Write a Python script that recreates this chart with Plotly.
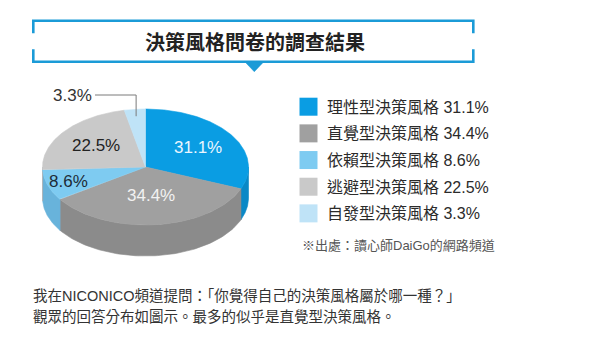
import numpy as np
import plotly.graph_objects as go

# ---------------- data ----------------
categories = ["理性型決策風格", "直覺型決策風格", "依賴型決策風格", "逃避型決策風格", "自發型決策風格"]
values = [31.1, 34.4, 8.6, 22.5, 3.3]
value_labels = ["31.1%", "34.4%", "8.6%", "22.5%", "3.3%"]

title_text = "決策風格問卷的調查結果"
source_text = "※出處：讀心師DaiGo的網路頻道"
caption_lines = [
    "我在NICONICO頻道提問：「你覺得自己的決策風格屬於哪一種？」",
    "觀眾的回答分布如圖示。最多的似乎是直覺型決策風格。",
]

# ---------------- styles / layout constants ----------------
W, H = 600, 347
FONT = "Liberation Sans, Noto Sans CJK TC, sans-serif"
TOP_COLORS = ["#0a9de3", "#a0a0a0", "#7ecbf1", "#c9c9c9", "#bfe3f7"]
SIDE_COLORS = ["#0a88c6", "#8b8b8b", "#68b3db", "#b3b3b3", "#a5cfe6"]
LABEL_COLORS = ["#eaf6ff", "#f2f2f2", "#1d2b38", "#222222", "#333333"]
LABEL_R = [0.61, 0.50, 0.79, 0.61, None]
BLUE = "#1b9bd7"

CX, CY, RX, RY, DEPTH = 145.5, 167.0, 103.0, 58.0, 31.0


def pt(theta_deg, k=1.0, dy=0.0):
    t = np.radians(theta_deg)
    return CX + RX * k * np.sin(t), CY - RY * k * np.cos(t) + dy


fig = go.Figure()

total = float(sum(values))
bounds = np.concatenate([[0.0], np.cumsum(values) / total * 360.0])

# side faces (front half visible: 90..270 deg clockwise from top)
for i in range(len(values)):
    a0, a1 = bounds[i], bounds[i + 1]
    s0, s1 = max(a0, 90.0), min(a1, 270.0)
    if s1 <= s0:
        continue
    th = np.linspace(s0, s1, 80)
    xt, yt = pt(th)
    xb, yb = pt(th[::-1], dy=DEPTH)
    xs = np.concatenate([xt, xb, xt[:1]])
    ys = np.concatenate([yt, yb, yt[:1]])
    fig.add_trace(go.Scatter(x=xs, y=ys, mode="lines", fill="toself",
                             fillcolor=SIDE_COLORS[i],
                             line=dict(color=SIDE_COLORS[i], width=0.6),
                             hoverinfo="skip", showlegend=False))

# top faces
for i in range(len(values)):
    a0, a1 = bounds[i], bounds[i + 1]
    th = np.linspace(a0, a1, max(10, int((a1 - a0) * 2)))
    xa, ya = pt(th)
    xs = np.concatenate([[CX], xa, [CX]])
    ys = np.concatenate([[CY], ya, [CY]])
    fig.add_trace(go.Scatter(x=xs, y=ys, mode="lines", fill="toself",
                             fillcolor=TOP_COLORS[i],
                             line=dict(color=TOP_COLORS[i], width=0.6),
                             hoverinfo="skip", showlegend=False))

annotations = []
# slice labels
for i in range(len(values)):
    mid = (bounds[i] + bounds[i + 1]) / 2
    if LABEL_R[i] is not None:
        x, y = pt(mid, LABEL_R[i])
        annotations.append(dict(x=x, y=y, text=value_labels[i], showarrow=False,
                                xanchor="center", yanchor="middle",
                                font=dict(family=FONT, size=17, color=LABEL_COLORS[i])))
    else:
        x0, y0 = pt(mid, 0.88)
        ly, lx = 95.0, 95.0
        fig.add_trace(go.Scatter(x=[x0, x0, lx], y=[y0, ly, ly], mode="lines",
                                 line=dict(color="#7a7a7a", width=1),
                                 hoverinfo="skip", showlegend=False))
        annotations.append(dict(x=lx - 1, y=ly, text=value_labels[i], showarrow=False,
                                xanchor="right", yanchor="middle",
                                font=dict(family=FONT, size=17, color=LABEL_COLORS[i])))

# legend
LEG_X, LEG_Y0, LEG_DY = 308.5, 106.7, 26.67
leg_y = [LEG_Y0 + i * LEG_DY for i in range(len(categories))]
fig.add_trace(go.Scatter(x=[LEG_X] * len(categories), y=leg_y, mode="markers",
                         marker=dict(symbol="square", size=18, color=TOP_COLORS,
                                     line=dict(width=0)),
                         hoverinfo="skip", showlegend=False))
for i, c in enumerate(categories):
    annotations.append(dict(x=325, y=leg_y[i], text=f"{c} {value_labels[i]}",
                            showarrow=False, xanchor="left", yanchor="middle",
                            font=dict(family=FONT, size=16, color="#2b2b2b")))

annotations.append(dict(x=300, y=245.5, text=source_text, showarrow=False,
                        xanchor="left", yanchor="middle",
                        font=dict(family=FONT, size=13, color="#555555")))

# title
annotations.append(dict(x=255, y=42, text=f"<b>{title_text}</b>", showarrow=False,
                        xanchor="center", yanchor="middle",
                        font=dict(family=FONT, size=20, color="#222222")))

# caption
for j, line in enumerate(caption_lines):
    annotations.append(dict(x=31, y=295 + j * 21.7, text=line, showarrow=False,
                            xanchor="left", yanchor="middle",
                            font=dict(family=FONT, size=14.5, color="#333333")))

# title bracket frame
L, R, T, B = 33.3, 473.3, 20.7, 61.7
shapes = [
    dict(type="path", xref="x", yref="y",
         path=f"M {L},{T+12.6} L {L},{T} L {R},{T} L {R},{T+12.6}",
         line=dict(color=BLUE, width=2.6)),
    dict(type="path", xref="x", yref="y",
         path=f"M {L},{B-12.4} L {L},{B} L {R},{B} L {R},{B-12.4}",
         line=dict(color=BLUE, width=2.6)),
    dict(type="path", xref="x", yref="y",
         path=f"M {254.3-9.5},{B} L {254.3+9.5},{B} L 254.3,{B+10} Z",
         fillcolor=BLUE, line=dict(color=BLUE, width=0.5)),
]

fig.update_layout(
    width=W, height=H,
    margin=dict(l=0, r=0, t=0, b=0),
    paper_bgcolor="white", plot_bgcolor="white",
    xaxis=dict(range=[0, W], visible=False, fixedrange=True, domain=[0, 1]),
    yaxis=dict(range=[H, 0], visible=False, fixedrange=True, domain=[0, 1]),
    annotations=annotations, shapes=shapes,
    showlegend=False,
)

fig.write_html("out.html", config={"displayModeBar": False})
